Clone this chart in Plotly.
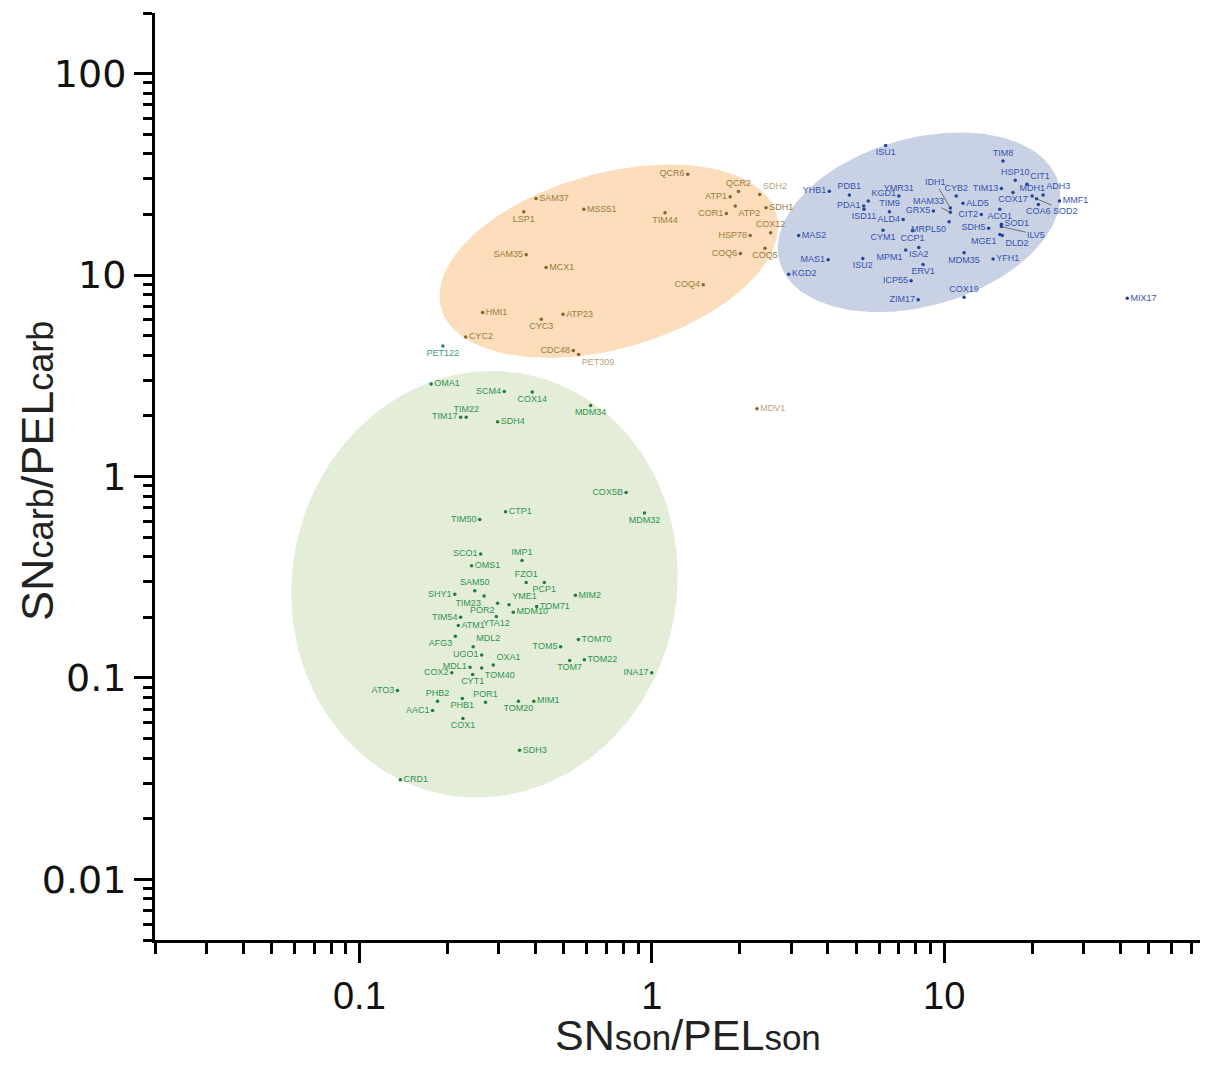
import numpy as np
import plotly.graph_objects as go

# ---------------- data ----------------
orange_names = ["SAM37", "LSP1", "MSS51", "SAM35", "MCX1", "HMI1", "CYC3", "ATP23", "CYC2", "CDC48",
                "PET309", "QCR6", "QCR2", "SDH2", "ATP1", "SDH1", "TIM44", "COR1", "ATP2", "COX12",
                "HSP78", "COQ6", "COQ5", "COQ4", "MDV1"]
orange_x = [0.402, 0.365, 0.586, 0.372, 0.435, 0.264, 0.419, 0.497, 0.231, 0.539,
            0.562, 1.328, 1.98, 2.34, 1.854, 2.46, 1.11, 1.80, 1.93, 2.55,
            2.17, 2.01, 2.44, 1.50, 2.29]
orange_y = [24.0, 20.6, 21.2, 12.6, 10.9, 6.51, 6.04, 6.39, 4.93, 4.22,
            4.03, 31.7, 26.0, 25.1, 24.5, 21.6, 20.4, 20.2, 22.0, 16.2,
            15.7, 12.8, 13.6, 8.95, 2.17]
orange_pos = ["middle right", "bottom center", "middle right", "middle left", "middle right",
              "middle right", "bottom center", "middle right", "middle right", "middle left",
              "bottom right", "middle left", "top center", "top right", "middle left",
              "middle right", "bottom center", "middle left", "bottom right", "top center",
              "middle left", "middle left", "bottom center", "middle left", "middle right"]
orange_light = ["PET309", "SDH2", "MDV1"]

blue_names = ["ISU1", "YHB1", "PDB1", "KGD1", "PDA1", "ISD11", "YMR31", "TIM9", "ALD4", "GRX5",
              "CYB2", "MRPL50", "CYM1", "CCP1", "MAS2", "MPM1", "ISA2", "MAS1", "ISU2", "ERV1",
              "KGD2", "ICP55", "ZIM17", "TIM8", "HSP10", "CIT1", "TIM13", "COX17", "MDH1", "ADH3",
              "COA6", "MMF1", "ALD5", "ACO1", "CIT2", "SDH5", "SOD1", "MGE1", "DLD2", "MDM35",
              "YFH1", "COX19", "MIX17"]
blue_x = [6.31, 4.05, 4.74, 5.50, 5.31, 5.32, 7.00, 6.50, 7.24, 9.19,
          11.0, 10.4, 6.18, 7.79, 3.18, 7.39, 8.19, 4.01, 5.27, 8.47,
          2.94, 7.71, 8.15, 15.9, 17.5, 19.2, 15.7, 17.2, 20.0, 21.8,
          21.0, 24.8, 11.6, 15.5, 13.4, 14.2, 15.7, 15.5, 15.8, 11.7,
          14.7, 11.7, 42.3]
blue_y = [44.0, 26.1, 25.0, 23.3, 22.0, 21.2, 24.7, 20.6, 18.9, 20.8,
          24.7, 18.4, 16.7, 16.6, 15.7, 13.3, 13.7, 11.9, 12.1, 11.3,
          10.1, 9.37, 7.55, 36.8, 29.6, 28.2, 26.9, 25.7, 24.7, 25.0,
          22.4, 23.3, 22.7, 21.2, 20.0, 17.1, 17.9, 15.9, 15.7, 12.9,
          12.0, 7.76, 7.67]
blue_pos = ["bottom center", "middle left", "top center", "top right", "middle left",
            "bottom center", "top center", "top center", "middle left", "middle left",
            "top center", "bottom left", "bottom center", "bottom center", "middle right",
            "bottom left", "bottom center", "middle left", "bottom center", "bottom center",
            "middle right", "middle left", "middle left", "top center", "top center",
            "top right", "middle left", "bottom center", "top center", "top right",
            "bottom center", "middle right", "middle right", "bottom center", "middle left",
            "middle left", "middle right", "bottom left", "bottom right", "bottom center",
            "middle right", "top center", "middle right"]

# blue points whose labels are connected with a leader line: name, x, y, label dx, dy (px)
blue_lead_names = ["IDH1", "MAM33", "SOD2", "ILV5"]
blue_lead_x = [10.5, 10.5, 20.7, 15.7]
blue_lead_y = [21.5, 20.5, 23.9, 17.4]
blue_lead_dx = [-15, -22, 29, 35]
blue_lead_dy = [-26, -11, 12, 8]

green_names = ["OMA1", "SCM4", "TIM17", "TIM22", "SDH4", "COX14", "MDM34", "TIM50", "COX5B", "CTP1",
               "MDM32", "SCO1", "OMS1", "SAM50", "SHY1", "TIM23", "POR2", "YME1", "TIM54", "ATM1",
               "YTA12", "MDM10", "TOM71", "AFG3", "MDL2", "UGO1", "MDL1", "TOM40", "OXA1", "CYT1",
               "COX2", "ATO3", "PHB2", "PHB1", "POR1", "AAC1", "COX1", "TOM20", "MIM1", "SDH3",
               "CRD1", "IMP1", "FZO1", "PCP1", "MIM2", "TOM70", "TOM5", "TOM7", "TOM22", "INA17"]
green_x = [0.176, 0.313, 0.222, 0.232, 0.297, 0.390, 0.618, 0.258, 0.817, 0.316,
           0.944, 0.260, 0.242, 0.248, 0.212, 0.267, 0.297, 0.325, 0.222, 0.218,
           0.294, 0.336, 0.404, 0.213, 0.245, 0.262, 0.239, 0.262, 0.287, 0.244,
           0.207, 0.135, 0.185, 0.225, 0.270, 0.178, 0.226, 0.350, 0.395, 0.353,
           0.138, 0.360, 0.372, 0.429, 0.548, 0.561, 0.488, 0.524, 0.588, 1.00]
green_y = [2.88, 2.64, 1.97, 1.97, 1.87, 2.63, 2.25, 0.612, 0.833, 0.669,
           0.658, 0.412, 0.361, 0.271, 0.260, 0.255, 0.235, 0.231, 0.200, 0.182,
           0.202, 0.212, 0.226, 0.161, 0.143, 0.130, 0.113, 0.112, 0.116, 0.104,
           0.106, 0.0865, 0.0767, 0.0790, 0.0758, 0.0689, 0.0629, 0.0767, 0.0767, 0.0437,
           0.0312, 0.383, 0.298, 0.298, 0.257, 0.155, 0.143, 0.122, 0.123, 0.106]
green_pos = ["middle right", "middle left", "middle left", "top center", "middle right",
             "bottom center", "bottom center", "middle left", "middle left", "middle right",
             "bottom center", "middle left", "middle right", "top center", "middle left",
             "bottom left", "bottom left", "top right", "middle left", "middle right",
             "bottom center", "middle right", "middle right", "bottom left", "top right",
             "middle left", "middle left", "bottom right", "top right", "bottom center",
             "middle left", "middle left", "top center", "bottom center", "top center",
             "middle left", "bottom center", "bottom center", "middle right", "middle right",
             "middle right", "top center", "top center", "bottom center", "middle right",
             "middle right", "middle left", "bottom center", "middle right", "middle left"]

teal_names = ["PET122"]
teal_x = [0.193]
teal_y = [4.44]

x_ticks = [0.1, 1, 10]
x_ticktext = ["0.1", "1", "10"]
y_ticks = [0.01, 0.1, 1, 10, 100]
y_ticktext = ["0.01", "0.1", "1", "10", "100"]

x_title = "SN<span style='font-size:35px'>son</span>/PEL<span style='font-size:35px'>son</span>"
y_title = "SN<span style='font-size:36px'>carb</span>/PEL<span style='font-size:36px'>carb</span>"

# ---------------- styles ----------------
ORANGE_FILL, BLUE_FILL, GREEN_FILL = "#FCDDBC", "#C9D1E5", "#E4EDD8"
ORANGE_DOT, ORANGE_TXT, ORANGE_LIGHT = "#86652A", "#9C7B3C", "#B9A37C"
BLUE_DOT, BLUE_TXT = "#23439E", "#3553B0"
GREEN_DOT, GREEN_TXT = "#1C7E3E", "#2F9550"
TEAL_DOT, TEAL_TXT = "#238A5E", "#3C9C74"
LABEL_FONT = "Liberation Sans, Arial, sans-serif"

fig = go.Figure()

# ellipses (centre in log10 units, half extents in decades, correlation)
def ellipse(cx, cy, hx, hy, rho, n=200):
    t = np.linspace(0, 2 * np.pi, n)
    lx = cx + hx * np.cos(t)
    ly = cy + hy * (rho * np.cos(t) + np.sqrt(1 - rho ** 2) * np.sin(t))
    return 10 ** lx, 10 ** ly

for (cx, cy, hx, hy, rho), col in [((-0.147, 1.069, 0.579, 0.480, 0.36), ORANGE_FILL),
                                    ((0.914, 1.262, 0.483, 0.446, 0.29), BLUE_FILL),
                                    ((-0.572, -0.535, 0.661, 1.059, 0.04), GREEN_FILL)]:
    ex, ey = ellipse(cx, cy, hx, hy, rho)
    fig.add_trace(go.Scatter(x=ex, y=ey, mode="lines", fill="toself", fillcolor=col,
                             line=dict(width=0), hoverinfo="skip", showlegend=False))

def add_group(names, xs, ys, pos, dot, txt):
    fig.add_trace(go.Scatter(x=xs, y=ys, mode="markers+text", text=names, textposition=pos,
                             marker=dict(size=3.5, color=dot),
                             textfont=dict(size=9, color=txt, family=LABEL_FONT),
                             hoverinfo="text", showlegend=False))

o_colors = [ORANGE_LIGHT if n in orange_light else ORANGE_TXT for n in orange_names]
add_group(orange_names, orange_x, orange_y, orange_pos, ORANGE_DOT, o_colors)
add_group(blue_names, blue_x, blue_y, blue_pos, BLUE_DOT, BLUE_TXT)
add_group(green_names, green_x, green_y, green_pos, GREEN_DOT, GREEN_TXT)
add_group(teal_names, teal_x, teal_y, ["bottom center"], TEAL_DOT, TEAL_TXT)

fig.add_trace(go.Scatter(x=blue_lead_x, y=blue_lead_y, mode="markers",
                         marker=dict(size=3.5, color=BLUE_DOT), hoverinfo="skip", showlegend=False))
for n, x, y, dx, dy in zip(blue_lead_names, blue_lead_x, blue_lead_y, blue_lead_dx, blue_lead_dy):
    fig.add_annotation(x=np.log10(x), y=np.log10(y), text=n, showarrow=True, arrowhead=0,
                       arrowwidth=0.8, arrowcolor="#555555", ax=dx, ay=dy,
                       font=dict(size=9, color=BLUE_TXT, family=LABEL_FONT))

# minor tick positions
x_minor = [m * 10.0 ** e for e in range(-2, 2) for m in range(2, 10)]
x_minor = [v for v in x_minor if 0.0199 <= v <= 75]
y_minor = [m * 10.0 ** e for e in range(-3, 3) for m in range(2, 10)]
y_minor = [v for v in y_minor if 0.0049 <= v <= 201]

axis_common = dict(type="log", showline=True, linecolor="black", linewidth=3,
                   ticks="outside", tickwidth=2.5, tickcolor="black", showgrid=False,
                   zeroline=False, mirror=False, automargin=False)

fig.update_xaxes(**axis_common, range=[np.log10(0.02), np.log10(75)], ticklen=20,
                 tickmode="array", tickvals=x_ticks, ticktext=x_ticktext,
                 tickfont=dict(size=38, family="Liberation Sans, Arial", color="#111111"),
                 minor=dict(ticks="outside", ticklen=11, tickwidth=2.5, tickcolor="black",
                            tickmode="array", tickvals=x_minor, showgrid=False))
fig.update_yaxes(**axis_common, range=[np.log10(0.005), np.log10(200)], ticklen=18,
                 tickmode="array", tickvals=y_ticks, ticktext=y_ticktext,
                 tickfont=dict(size=38, family="DejaVu Sans, Arial", color="#111111"),
                 minor=dict(ticks="outside", ticklen=9, tickwidth=2.5, tickcolor="black",
                            tickmode="array", tickvals=y_minor, showgrid=False))

fig.add_annotation(text=x_title, xref="paper", yref="paper", x=0.51, y=-0.103,
                   xanchor="center", yanchor="middle", showarrow=False,
                   font=dict(size=43, family="Liberation Sans, Arial", color="#222222"))
fig.add_annotation(text=y_title, xref="paper", yref="paper", x=-0.112, y=0.506,
                   xanchor="center", yanchor="middle", showarrow=False, textangle=-90,
                   font=dict(size=45, family="Liberation Sans, Arial", color="#222222"))

# the page body adds an 8 px margin, so the figure is 8 px smaller and shifted
fig.update_layout(width=1200, height=1060, margin=dict(l=147, r=8, t=5, b=128),
                  plot_bgcolor="white", paper_bgcolor="white", showlegend=False)

fig.write_html("out.html")
